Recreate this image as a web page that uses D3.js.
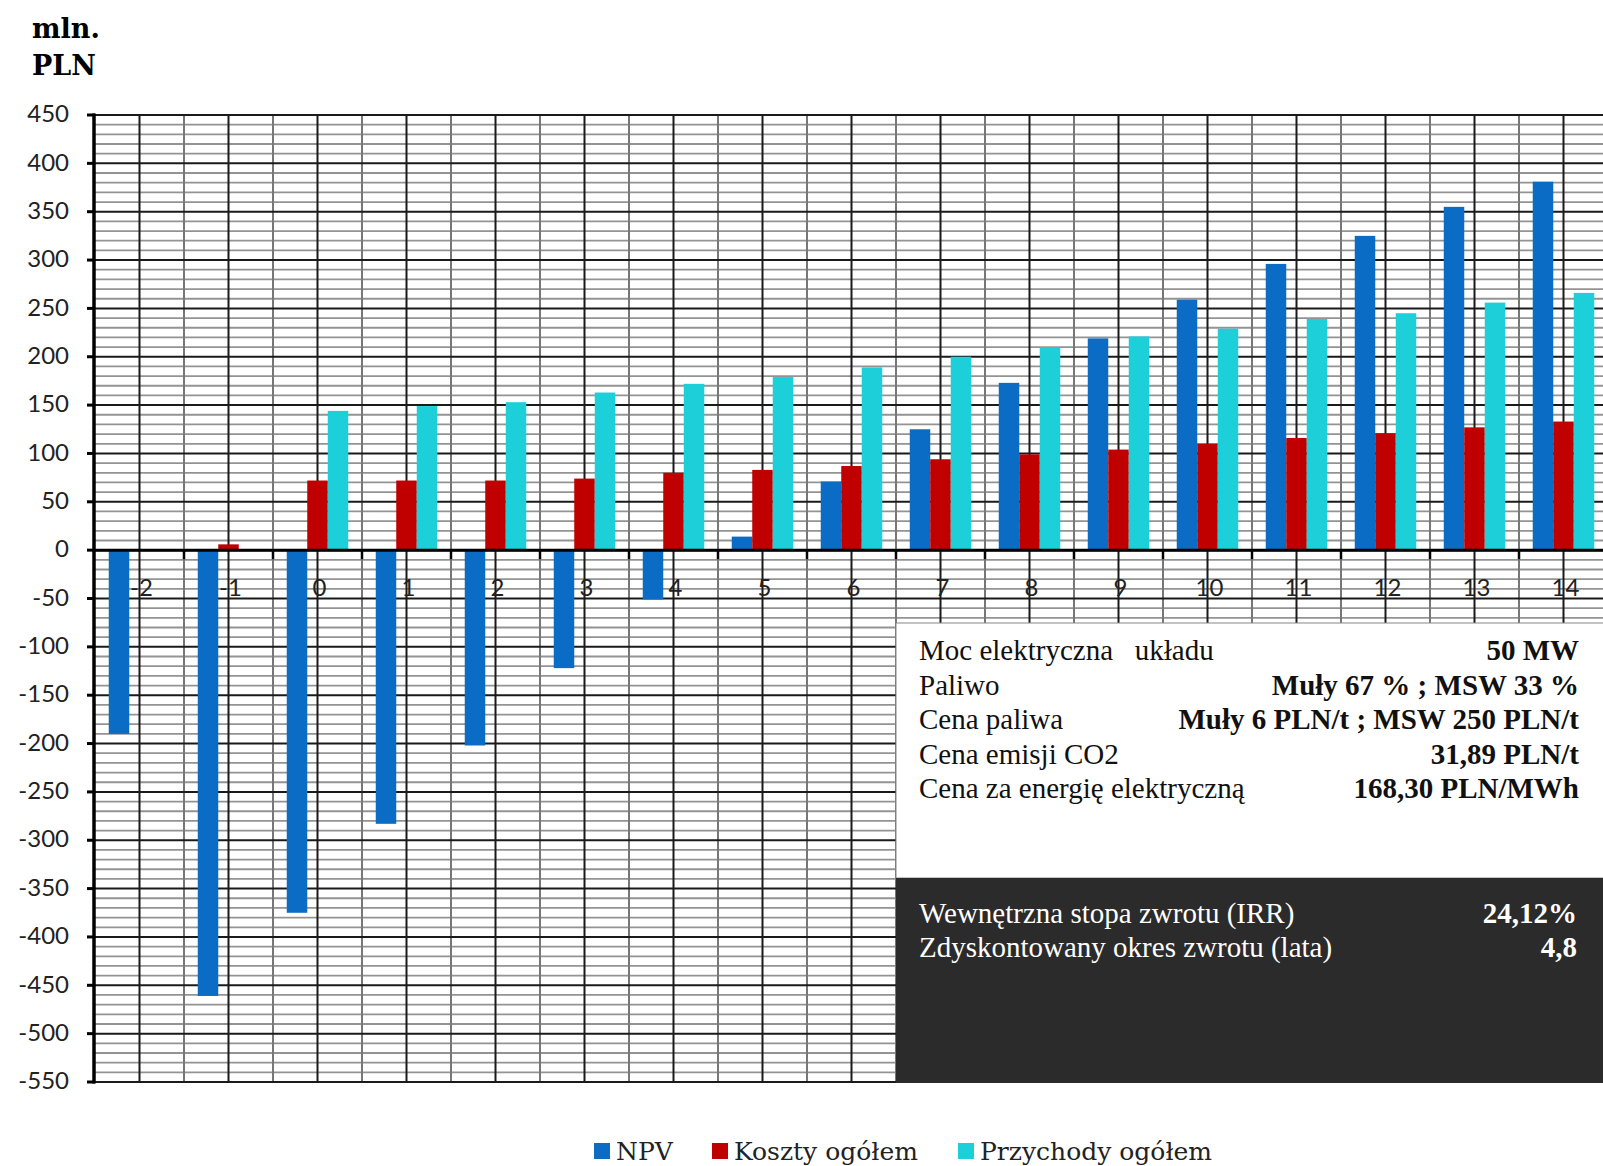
<!DOCTYPE html>
<html>
<head>
<meta charset="utf-8">
<script src="https://cdn.jsdelivr.net/npm/d3@7"></script>
<style>
  body { margin: 0; background: #fff; }
  svg { display: block; }
  .tick-lbl { font-family: Lato, "Noto Sans", sans-serif; font-size: 24px; fill: #222; }
  .info { font-family: "Liberation Serif", serif; font-size: 29px; }
  .legend { font-family: "DejaVu Serif", serif; font-size: 25px; fill: #222; }
</style>
</head>
<body>
<div id="chart"></div>
<script>
// dane (mln PLN)
const lata = ["-2", "-1", "0", "1", "2", "3", "4", "5", "6", "7", "8", "9", "10", "11", "12", "13", "14"]
const npv = [-190, -461, -375, -283, -202, -122, -51, 14, 71, 125, 173, 219, 259, 296, 325, 355, 381]
const koszty = [0, 6, 72, 72, 72, 74, 80, 83, 87, 94, 99, 104, 110, 116, 121, 127, 133]
const przychody = [0, 0, 144, 149, 153, 163, 172, 179, 189, 200, 210, 221, 229, 239, 245, 256, 266]
const serie = ["NPV", "Koszty ogółem", "Przychody ogółem"]
const kolory = ["#0a6cc4", "#c00000", "#1ccfd8"]
const yTicks = d3.range(-550, 451, 50)

const parametry = [
  ["Moc elektryczna   układu", "50 MW"],
  ["Paliwo", "Muły 67 % ; MSW 33 %"],
  ["Cena paliwa", "Muły 6 PLN/t ; MSW 250 PLN/t"],
  ["Cena emisji CO2", "31,89 PLN/t"],
  ["Cena za energię elektryczną", "168,30 PLN/MWh"],
]
const wyniki = [
  ["Wewnętrzna stopa zwrotu (IRR)", "24,12%"],
  ["Zdyskontowany okres zwrotu (lata)", "4,8"],
]

// wymiary
const anchoT = 1603, altoT = 1166
const pLeft = 95, band = 89, pTop = 115, pBottom = 1082

const svg = d3.select("#chart").append("svg")
  .attr("width", anchoT).attr("height", altoT)

const x = d3.scaleBand().domain(lata).range([pLeft, pLeft + band * lata.length])
const xs = d3.scaleBand().domain(serie).range([-30.75, 30.75])
const y = d3.scaleLinear().domain([-550, 450]).range([pBottom, pTop])

const plotR = pLeft + band * lata.length

// siatka - linie pomocnicze co 10
svg.append("g").selectAll("line")
  .data(d3.range(-550, 451, 10).filter(v => v % 50 !== 0))
  .join("line")
  .attr("x1", pLeft).attr("x2", plotR)
  .attr("y1", d => y(d)).attr("y2", d => y(d))
  .attr("stroke", "#939393").attr("stroke-width", 1.8)

// pionowe: granice kategorii (szare) i srodki (czarne)
svg.append("g").selectAll("line")
  .data(lata.slice(1))
  .join("line")
  .attr("x1", d => x(d)).attr("x2", d => x(d))
  .attr("y1", pTop).attr("y2", pBottom)
  .attr("stroke", "#777").attr("stroke-width", 2)

svg.append("g").selectAll("line")
  .data(lata)
  .join("line")
  .attr("x1", d => x(d) + band / 2).attr("x2", d => x(d) + band / 2)
  .attr("y1", pTop).attr("y2", pBottom)
  .attr("stroke", "#1a1a1a").attr("stroke-width", 2)

// glowne linie co 50
svg.append("g").selectAll("line")
  .data(yTicks)
  .join("line")
  .attr("x1", pLeft).attr("x2", plotR)
  .attr("y1", d => y(d)).attr("y2", d => y(d))
  .attr("stroke", "#1a1a1a").attr("stroke-width", 2)

// slupki
const dane = lata.map((l, i) => [
  { rok: l, s: serie[0], v: npv[i] },
  { rok: l, s: serie[1], v: koszty[i] },
  { rok: l, s: serie[2], v: przychody[i] },
]).flat().filter(d => d.v !== 0)

svg.append("g").selectAll("rect")
  .data(dane)
  .join("rect")
  .attr("x", d => x(d.rok) + band / 2 + xs(d.s))
  .attr("width", xs.bandwidth())
  .attr("y", d => y(Math.max(0, d.v)))
  .attr("height", d => Math.abs(y(d.v) - y(0)))
  .attr("fill", d => kolory[serie.indexOf(d.s)])

// os X (na zerze)
svg.append("line")
  .attr("x1", pLeft - 2).attr("x2", plotR)
  .attr("y1", y(0)).attr("y2", y(0))
  .attr("stroke", "#000").attr("stroke-width", 3)
svg.append("g").selectAll("line")
  .data(lata.slice(1))
  .join("line")
  .attr("x1", d => x(d)).attr("x2", d => x(d))
  .attr("y1", y(0)).attr("y2", y(0) + 9)
  .attr("stroke", "#000").attr("stroke-width", 2.5)

svg.append("g").selectAll("text")
  .data(lata)
  .join("text")
  .attr("class", "tick-lbl")
  .attr("x", d => x(d) + band / 2 + 2)
  .attr("y", y(0) + 46)
  .attr("text-anchor", "middle")
  .text(d => d)

// os Y
svg.append("line")
  .attr("x1", pLeft - 1).attr("x2", pLeft - 1)
  .attr("y1", pTop - 1.5).attr("y2", pBottom + 1.5)
  .attr("stroke", "#000").attr("stroke-width", 3.5)
svg.append("g").selectAll("line")
  .data(yTicks)
  .join("line")
  .attr("x1", pLeft - 8).attr("x2", pLeft)
  .attr("y1", d => y(d)).attr("y2", d => y(d))
  .attr("stroke", "#000").attr("stroke-width", 3)
svg.append("g").selectAll("text")
  .data(yTicks)
  .join("text")
  .attr("class", "tick-lbl")
  .attr("x", 69)
  .attr("y", d => y(d))
  .attr("dy", "0.3em")
  .attr("text-anchor", "end")
  .text(d => d)

// jednostka
svg.append("text")
  .attr("x", 32).attr("y", 38)
  .style("font-family", "DejaVu Serif").style("font-weight", "bold").style("font-size", "27px")
  .text("mln.")
svg.append("text")
  .attr("x", 32).attr("y", 75)
  .style("font-family", "DejaVu Serif").style("font-weight", "bold").style("font-size", "27px")
  .text("PLN")

// ramka z parametrami
const boxL = 896
svg.append("rect")
  .attr("x", boxL).attr("y", 623)
  .attr("width", anchoT - boxL + 2).attr("height", 878 - 623)
  .attr("fill", "#fff").attr("stroke", "#888").attr("stroke-width", 1)
svg.append("rect")
  .attr("x", boxL).attr("y", 878)
  .attr("width", anchoT - boxL + 2).attr("height", pBottom + 1 - 878)
  .attr("fill", "#2b2b2b")

const gP = svg.append("g").attr("class", "info")
parametry.forEach((r, i) => {
  gP.append("text").attr("x", 919).attr("y", 660 + i * 34.5)
    .attr("xml:space", "preserve").style("white-space", "pre")
    .attr("fill", "#111").text(r[0])
  gP.append("text").attr("x", 1579).attr("y", 660 + i * 34.5)
    .attr("text-anchor", "end").attr("font-weight", "bold")
    .attr("fill", "#111").text(r[1])
})
wyniki.forEach((r, i) => {
  gP.append("text").attr("x", 919).attr("y", 923 + i * 34)
    .attr("fill", "#fff").text(r[0])
  gP.append("text").attr("x", 1577).attr("y", 923 + i * 34)
    .attr("text-anchor", "end").attr("font-weight", "bold")
    .attr("fill", "#fff").text(r[1])
})

// legenda
const legX = [594, 712, 958]
const leg = svg.append("g")
serie.forEach((s, i) => {
  leg.append("rect").attr("x", legX[i]).attr("y", 1143)
    .attr("width", 16).attr("height", 16).attr("fill", kolory[i])
  leg.append("text").attr("class", "legend")
    .attr("x", legX[i] + 22).attr("y", 1160).text(s)
})
</script>
</body>
</html>
